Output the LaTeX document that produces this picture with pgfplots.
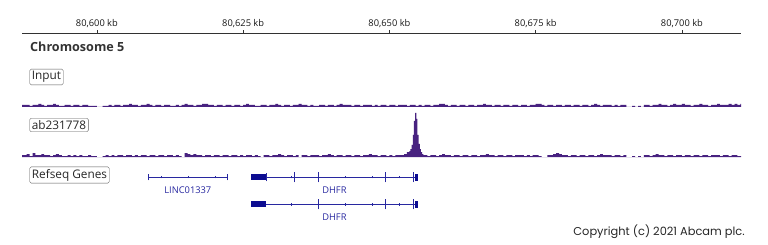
\documentclass[border=0pt]{standalone}
\usepackage{fontspec}
\setmainfont{Open Sans}
\newfontfamily\copyfont{Poppins}
\usepackage{pgfplots}
\pgfplotsset{compat=1.18}
\definecolor{sig}{RGB}{72,34,128}
\definecolor{gene}{RGB}{40,40,160}
\definecolor{genebox}{RGB}{12,12,145}
\definecolor{rul}{RGB}{50,50,50}
\pgfplotsset{trk/.style={scale only axis, width=719pt, xmin=80587.2, xmax=80710.1, hide axis, clip=false, anchor=south west}}
\begin{document}
\begin{tikzpicture}
\useasboundingbox (0pt,0pt) rectangle (768pt,244pt);
% ruler
\begin{axis}[scale only axis, width=719pt, height=1pt, xmin=80587.2, xmax=80710.1, ymin=0, ymax=1,
  at={(22pt,210pt)}, anchor=south west, axis x line=top, axis y line=none, scaled x ticks=false,
  x axis line style={-, draw=rul, line width=0.8pt},
  xtick={80600,80625,80650,80675,80700},
  xticklabels={{80,600 kb},{80,625 kb},{80,650 kb},{80,675 kb},{80,700 kb}},
  tick align=outside, major tick length=3pt, tick style={draw=rul, line width=0.7pt},
  xticklabel style={font=\fontsize{9.3}{11}\selectfont, text=black!90, yshift=-1.5pt}, ytick=\empty]
\addplot[draw=none] coordinates {(80600,0)};
\end{axis}
% Input track
\begin{axis}[trk, at={(22pt,137pt)}, height=40pt, ymin=0, ymax=40]
\addplot[const plot, fill=sig, draw=none] table[row sep=\\] {x y\\
80587.2 2\\
80587.5 2\\ 80588 2\\ 80588.5 1\\ 80589 2\\ 80589.5 2\\ 80590 3\\ 80590.5 2\\ 80591 1\\ 80591.5 2\\ 80592 2\\
80592.5 3\\ 80593 2\\ 80593.5 1\\ 80594 1\\ 80594.5 2\\ 80595 2\\ 80595.5 1\\ 80596 2\\ 80596.5 2\\ 80597 1\\
80597.5 2\\ 80598 2\\ 80598.5 1\\ 80599 1\\ 80599.5 1\\ 80600 0\\ 80600.5 0\\ 80601 1\\ 80601.5 1\\ 80602 2\\
80602.5 1\\ 80603 2\\ 80603.5 2\\ 80604 1\\ 80604.5 2\\ 80605 2\\ 80605.5 3\\ 80606 2\\ 80606.5 2\\ 80607 1\\
80607.5 2\\ 80608 2\\ 80608.5 3\\ 80609 2\\ 80609.5 1\\ 80610 2\\ 80610.5 2\\ 80611 1\\ 80611.5 2\\ 80612 2\\
80612.5 1\\ 80613 1\\ 80613.5 2\\ 80614 1\\ 80614.5 2\\ 80615 3\\ 80615.5 2\\ 80616 2\\ 80616.5 1\\ 80617 2\\
80617.5 2\\ 80618 3\\ 80618.5 3\\ 80619 2\\ 80619.5 2\\ 80620 1\\ 80620.5 2\\ 80621 2\\ 80621.5 1\\ 80622 2\\
80622.5 2\\ 80623 1\\ 80623.5 2\\ 80624 2\\ 80624.5 1\\ 80625 2\\ 80625.5 3\\ 80626 2\\ 80626.5 2\\ 80627 1\\
80627.5 1\\ 80628 2\\ 80628.5 2\\ 80629 1\\ 80629.5 2\\ 80630 2\\ 80630.5 3\\ 80631 2\\ 80631.5 1\\ 80632 2\\
80632.5 2\\ 80633 1\\ 80633.5 2\\ 80634 2\\ 80634.5 3\\ 80635 2\\ 80635.5 2\\ 80636 1\\ 80636.5 2\\ 80637 1\\
80637.5 1\\ 80638 2\\ 80638.5 2\\ 80639 1\\ 80639.5 2\\ 80640 2\\ 80640.5 1\\ 80641 2\\ 80641.5 3\\ 80642 2\\
80642.5 2\\ 80643 2\\ 80643.5 1\\ 80644 2\\ 80644.5 2\\ 80645 1\\ 80645.5 2\\ 80646 2\\ 80646.5 2\\ 80647 1\\
80647.5 2\\ 80648 1\\ 80648.5 2\\ 80649 2\\ 80649.5 1\\ 80650 2\\ 80650.5 2\\ 80651 1\\ 80651.5 2\\ 80652 2\\
80652.5 2\\ 80653 1\\ 80653.5 2\\ 80654 2\\ 80654.5 1\\ 80655 2\\ 80655.5 1\\ 80656 2\\ 80656.5 2\\ 80657 1\\
80657.5 2\\ 80658 2\\ 80658.5 3\\ 80659 3\\ 80659.5 2\\ 80660 1\\ 80660.5 2\\ 80661 2\\ 80661.5 1\\ 80662 2\\
80662.5 2\\ 80663 1\\ 80663.5 2\\ 80664 2\\ 80664.5 1\\ 80665 2\\ 80665.5 2\\ 80666 3\\ 80666.5 2\\ 80667 2\\
80667.5 1\\ 80668 2\\ 80668.5 2\\ 80669 1\\ 80669.5 2\\ 80670 2\\ 80670.5 1\\ 80671 2\\ 80671.5 2\\ 80672 1\\
80672.5 2\\ 80673 2\\ 80673.5 1\\ 80674 2\\ 80674.5 2\\ 80675 3\\ 80675.5 3\\ 80676 2\\ 80676.5 1\\ 80677 2\\
80677.5 2\\ 80678 1\\ 80678.5 2\\ 80679 2\\ 80679.5 1\\ 80680 2\\ 80680.5 2\\ 80681 1\\ 80681.5 2\\ 80682 2\\
80682.5 1\\ 80683 2\\ 80683.5 2\\ 80684 1\\ 80684.5 2\\ 80685 3\\ 80685.5 2\\ 80686 1\\ 80686.5 2\\ 80687 2\\
80687.5 2\\ 80688 1\\ 80688.5 2\\ 80689 1\\ 80689.5 2\\ 80690 2\\ 80690.5 0\\ 80691 0\\ 80691.5 1\\ 80692 0\\
80692.5 1\\ 80693 0\\ 80693.5 2\\ 80694 2\\ 80694.5 1\\ 80695 2\\ 80695.5 2\\ 80696 3\\ 80696.5 2\\ 80697 2\\
80697.5 1\\ 80698 2\\ 80698.5 3\\ 80699 2\\ 80699.5 2\\ 80700 3\\ 80700.5 2\\ 80701 2\\ 80701.5 1\\ 80702 2\\
80702.5 2\\ 80703 3\\ 80703.5 2\\ 80704 2\\ 80704.5 1\\ 80705 2\\ 80705.5 2\\ 80706 3\\ 80706.5 2\\ 80707 2\\
80707.5 2\\ 80708 3\\ 80708.5 2\\ 80709 3\\ 80709.5 2\\ 80710 3\\ 80710.1 3\\
} \closedcycle;
\end{axis}
% ab231778 track
\begin{axis}[trk, at={(22pt,87pt)}, height=50pt, ymin=0, ymax=50]
\addplot[const plot, fill=sig, draw=none] table[row sep=\\] {x y\\
80587.2 2\\
80587.5 2\\ 80588 3\\ 80588.5 1\\ 80589 4\\ 80589.5 2\\ 80590 2\\ 80590.5 3\\ 80591 2\\ 80591.5 2\\ 80592 1\\
80592.5 2\\ 80593 3\\ 80593.5 2\\ 80594 1\\ 80594.5 1\\ 80595 2\\ 80595.5 1\\ 80596 2\\ 80596.5 1\\ 80597 2\\
80597.5 1\\ 80598 1\\ 80598.5 2\\ 80599 1\\ 80599.5 1\\ 80600 0\\ 80600.5 0\\ 80601 1\\ 80601.5 2\\ 80602 1\\
80602.5 2\\ 80603 1\\ 80603.5 2\\ 80604 2\\ 80604.5 1\\ 80605 2\\ 80605.5 2\\ 80606 1\\ 80606.5 2\\ 80607 1\\
80607.5 2\\ 80608 2\\ 80608.5 1\\ 80609 2\\ 80609.5 2\\ 80610 1\\ 80610.5 2\\ 80611 2\\ 80611.5 1\\ 80612 2\\
80612.5 2\\ 80613 1\\ 80613.5 2\\ 80614 1\\ 80614.5 0\\ 80615 4\\ 80615.5 3\\ 80616 2\\ 80616.5 3\\ 80617 2\\
80617.5 2\\ 80618 1\\ 80618.5 2\\ 80619 2\\ 80619.5 1\\ 80620 2\\ 80620.5 2\\ 80621 1\\ 80621.5 2\\ 80622 2\\
80622.5 1\\ 80623 2\\ 80623.5 2\\ 80624 1\\ 80624.5 2\\ 80625 1\\ 80625.5 2\\ 80626 2\\ 80626.5 1\\ 80627 2\\
80627.5 1\\ 80628 0\\ 80628.5 2\\ 80629 2\\ 80629.5 1\\ 80630 2\\ 80630.5 2\\ 80631 3\\ 80631.5 2\\ 80632 1\\
80632.5 2\\ 80633 2\\ 80633.5 1\\ 80634 2\\ 80634.5 0\\ 80635 2\\ 80635.5 2\\ 80636 1\\ 80636.5 2\\ 80637 2\\
80637.5 2\\ 80638 1\\ 80638.5 2\\ 80639 2\\ 80639.5 3\\ 80640 2\\ 80640.5 1\\ 80641 2\\ 80641.5 2\\ 80642 1\\
80642.5 2\\ 80643 2\\ 80643.5 1\\ 80644 2\\ 80644.5 2\\ 80645 1\\ 80645.5 2\\ 80646 2\\ 80646.5 3\\ 80647 2\\
80647.5 2\\ 80648 1\\ 80648.5 2\\ 80649 2\\ 80649.5 1\\ 80650 2\\ 80650.5 1\\ 80651 2\\ 80651.5 2\\ 80652 2\\
80652.5 3\\ 80653 5\\ 80653.4 6\\ 80653.6 8\\ 80653.8 12\\ 80654 22\\ 80654.2 36\\ 80654.4 44\\ 80654.6 38\\ 80654.8 22\\
80655 13\\ 80655.2 8\\ 80655.4 5\\ 80655.6 3\\ 80655.8 2\\ 80656 2\\ 80656.5 1\\ 80657 2\\
80657.5 2\\ 80658 1\\ 80658.5 2\\ 80659 3\\ 80659.5 2\\ 80660 2\\ 80660.5 1\\ 80661 2\\ 80661.5 2\\ 80662 1\\
80662.5 2\\ 80663 2\\ 80663.5 1\\ 80664 2\\ 80664.5 2\\ 80665 1\\ 80665.5 2\\ 80666 2\\ 80666.5 3\\ 80667 2\\
80667.5 2\\ 80668 1\\ 80668.5 2\\ 80669 2\\ 80669.5 1\\ 80670 2\\ 80670.5 2\\ 80671 1\\ 80671.5 2\\ 80672 2\\
80672.5 2\\ 80673 1\\ 80673.5 2\\ 80674 1\\ 80674.5 2\\ 80675 2\\ 80675.5 1\\ 80676 0\\ 80676.5 0\\ 80677 2\\
80677.5 2\\ 80678 3\\ 80678.5 4\\ 80679 3\\ 80679.5 2\\ 80680 2\\ 80680.5 1\\ 80681 2\\ 80681.5 2\\ 80682 1\\
80682.5 2\\ 80683 2\\ 80683.5 1\\ 80684 2\\ 80684.5 2\\ 80685 1\\ 80685.5 2\\ 80686 3\\ 80686.5 2\\ 80687 2\\
80687.5 2\\ 80688 1\\ 80688.5 2\\ 80689 2\\ 80689.5 1\\ 80690 2\\ 80690.5 0\\ 80691 0\\ 80691.5 1\\ 80692 0\\
80692.5 1\\ 80693 0\\ 80693.5 2\\ 80694 2\\ 80694.5 1\\ 80695 2\\ 80695.5 3\\ 80696 2\\ 80696.5 2\\ 80697 1\\
80697.5 2\\ 80698 2\\ 80698.5 1\\ 80699 2\\ 80699.5 2\\ 80700 1\\ 80700.5 2\\ 80701 2\\ 80701.5 1\\ 80702 2\\
80702.5 2\\ 80703 1\\ 80703.5 2\\ 80704 2\\ 80704.5 1\\ 80705 2\\ 80705.5 2\\ 80706 2\\ 80706.5 1\\ 80707 2\\
80707.5 2\\ 80708 1\\ 80708.5 2\\ 80709 2\\ 80709.5 1\\ 80710 1\\ 80710.1 1\\
} \closedcycle;
\end{axis}
% gene track
\begin{axis}[trk, at={(22pt,24pt)}, height=55pt, ymin=0, ymax=55, unbounded coords=jump]
% LINC01337
\addplot[gene, line width=0.8pt] coordinates {(80608.76,42.7)(80622.33,42.7)};
\addplot[gene, line width=0.9pt] coordinates {(80608.76,39.7)(80608.76,45.7)(nan,nan)(80622.33,39.7)(80622.33,45.7)};
\addplot[gene, line width=0.8pt] coordinates {(80611.05,41.5)(80611.05,43.9)(nan,nan)(80615.60,41.5)(80615.60,43.9)(nan,nan)(80620.33,41.5)(80620.33,43.9)};
% DHFR row 1
\addplot[fill=genebox, draw=none] coordinates {(80626.26,39.7)(80628.99,39.7)(80628.99,45.7)(80626.26,45.7)} -- cycle;
\addplot[gene, line width=0.8pt] coordinates {(80628.99,42.7)(80654.67,42.7)};
\addplot[gene, line width=0.8pt] coordinates {(80628.99,38.7)(80628.99,46.7)(nan,nan)(80633.83,37.7)(80633.83,47.7)(nan,nan)(80637.93,37.7)(80637.93,47.7)(nan,nan)(80649.38,37.7)(80649.38,47.7)(nan,nan)(80654.04,37.7)(80654.04,47.7)};
\addplot[gene, line width=0.8pt] coordinates {(80633.27,41.5)(80633.27,43.9)(nan,nan)(80642.54,41.5)(80642.54,43.9)(nan,nan)(80647.10,41.5)(80647.10,43.9)(nan,nan)(80651.65,41.5)(80651.65,43.9)};
\addplot[fill=genebox, draw=none] coordinates {(80654.40,39.2)(80654.84,39.2)(80654.84,46.2)(80654.40,46.2)} -- cycle;
% DHFR row 2
\addplot[fill=genebox, draw=none] coordinates {(80626.26,12.7)(80628.99,12.7)(80628.99,18.7)(80626.26,18.7)} -- cycle;
\addplot[gene, line width=0.8pt] coordinates {(80628.99,15.7)(80654.67,15.7)};
\addplot[gene, line width=0.8pt] coordinates {(80637.93,10.7)(80637.93,20.7)(nan,nan)(80649.38,10.7)(80649.38,20.7)(nan,nan)(80654.04,10.7)(80654.04,20.7)};
\addplot[gene, line width=0.8pt] coordinates {(80633.27,14.5)(80633.27,16.9)(nan,nan)(80642.54,14.5)(80642.54,16.9)(nan,nan)(80647.10,14.5)(80647.10,16.9)(nan,nan)(80651.65,14.5)(80651.65,16.9)};
\addplot[fill=genebox, draw=none] coordinates {(80654.40,12.2)(80654.84,12.2)(80654.84,19.2)(80654.40,19.2)} -- cycle;
\node[text=gene, font=\fontsize{9.3}{11}\selectfont] at (axis cs:80615.55,30) {LINC01337};
\node[text=gene, font=\fontsize{9.3}{11}\selectfont] at (axis cs:80640.6,30) {DHFR};
\node[text=gene, font=\fontsize{9.3}{11}\selectfont] at (axis cs:80640.6,3) {DHFR};
\end{axis}
% labels
\node[anchor=west, font=\fontsize{12.6}{15}\selectfont\bfseries, text=black!80, inner sep=0pt] at (30pt,197pt) {Chromosome 5};
\node[anchor=west, draw=black!65, rounded corners=1.5pt, inner sep=2.2pt, font=\fontsize{11.8}{14}\selectfont, text=black!85] at (29.5pt,167pt) {Input};
\node[anchor=west, draw=black!65, rounded corners=1.5pt, inner sep=2.2pt, font=\fontsize{11.8}{14}\selectfont, text=black!85] at (29.5pt,119pt) {ab231778};
\node[anchor=west, draw=black!65, rounded corners=1.5pt, inner sep=2.2pt, font=\fontsize{11.8}{14}\selectfont, text=black!85] at (29.5pt,69pt) {Refseq Genes};
\node[anchor=east, font=\copyfont\fontsize{11.4}{13}\selectfont, text=black!85, inner sep=0pt] at (745pt,12pt) {Copyright (c) 2021 Abcam plc.};
\end{tikzpicture}
\end{document}
